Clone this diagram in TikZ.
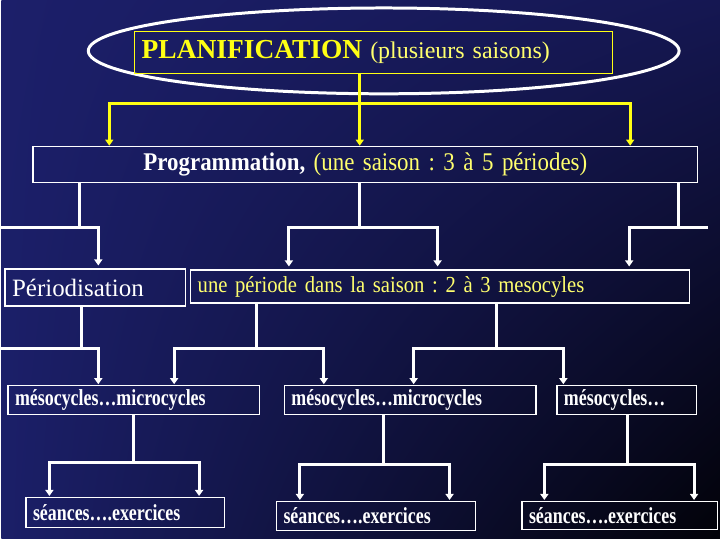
\documentclass[tikz,border=0pt]{standalone}
\usepackage{fontspec}
\setmainfont{Liberation Serif}
\newfontfamily\condserif[FakeStretch=0.78]{Liberation Serif}
\newfontfamily\narrowserif[FakeStretch=0.9]{Liberation Serif}
\usepackage{tikz}
\usetikzlibrary{arrows.meta, positioning, shadings}
\usepackage{xcolor}
\definecolor{bgTop}{RGB}{28, 31, 106}
\definecolor{bgSide}{RGB}{21, 23, 82}
\definecolor{bgLow}{RGB}{27, 31, 104}
\definecolor{bgDark}{RGB}{2, 2, 8}
\definecolor{lineY}{RGB}{255, 255, 20}
\definecolor{textY}{RGB}{255, 255, 110}
\frenchspacing

\begin{document}
\begin{tikzpicture}[x=1pt, y=-1pt,
  wbox/.style={draw=white, line width=1.2pt, anchor=north west, inner xsep=7pt, inner ysep=0pt, align=left, text=white},
  ybox/.style={wbox, draw=lineY, line width=1pt, text=lineY},
  lvl/.style={font=\fontsize{23}{26}\selectfont\condserif\bfseries},
  wline/.style={white, line width=3pt},
  warrow/.style={wline, -{Triangle[width=8pt, length=6pt]}, shorten >=1pt},
  yline/.style={lineY, line width=3pt},
  yarrow/.style={yline, -{Triangle[width=8pt, length=6pt]}}]

  % Background
  \shade[upper left=bgTop, upper right=bgSide, lower left=bgLow, lower right=bgDark] (0,0) rectangle (720,540);

  % Title oval and box
  \draw[white, line width=3pt] (383,51) ellipse [x radius=296pt, y radius=43pt];
  \node[ybox, minimum height=42pt, text width=465pt, font=\fontsize{24}{28}\selectfont] (plan) at (133,31)
    {{\fontsize{27.5}{30}\selectfont\bfseries PLANIFICATION} {\color{textY}(plusieurs saisons)}};

  % Boxes
  \node[wbox, minimum height=36pt, text width=652pt, align=center, font=\fontsize{25.5}{28}\selectfont\narrowserif] (prog) at (31,146)
    {{\bfseries Programmation,} {\color{textY}(une saison : 3 à 5 périodes)}};
  \node[wbox, minimum height=37pt, text width=167pt, font=\fontsize{25}{28}\selectfont] (peri) at (3,269) {Périodisation};
  \node[wbox, minimum height=33pt, text width=486pt, text=textY, font=\fontsize{23}{26}\selectfont\narrowserif] (period) at (189,270)
    {une période dans la saison : 2 à 3 mesocyles};

  \node[wbox, lvl, minimum height=29pt, text width=238pt] (meso1) at (6,386) {mésocycles…microcycles};
  \node[wbox, lvl, minimum height=29pt, text width=238pt] (meso2) at (283,386) {mésocycles…microcycles};
  \node[wbox, lvl, minimum height=29pt, text width=126pt] (meso3) at (556,386) {mésocycles…};

  \node[wbox, lvl, minimum height=30pt, text width=185pt] (sea1) at (24,498) {séances….exercices};
  \node[wbox, lvl, minimum height=29pt, text width=185pt] (sea2) at (275,502) {séances….exercices};
  \node[wbox, lvl, minimum height=28pt, text width=182pt] (sea3) at (521,502) {séances….exercices};

  % Yellow links
  \coordinate (yj) at (359,104);
  \draw[yarrow] (plan.south -| yj) -- (prog.north -| yj);
  \draw[yarrow] (yj) -| (prog.north -| 108,0);
  \draw[yarrow] (yj) -| (prog.north -| 630,0);

  % Programmation -> second row
  \coordinate (j1) at (78,228);
  \coordinate (e1) at (0,228);
  \draw[wline] (prog.south -| j1) -- (j1);
  \draw[warrow, shorten >=3pt] (e1) -| (peri.north -| 97,0);
  \coordinate (j2) at (359,228);
  \draw[wline] (prog.south -| j2) -- (j2);
  \foreach \ax in {288,437}
    \draw[warrow, shorten >=3pt] (j2) -| (period.north -| \ax,0);
  \coordinate (j3) at (678,228);
  \coordinate (e3) at (708,228);
  \draw[wline] (prog.south -| j3) -- (j3);
  \draw[warrow, shorten >=3pt] (e3) -| (period.north -| 629,0);

  % second row -> mesocycles
  \coordinate (j4) at (80,349);
  \coordinate (e4) at (0,349);
  \draw[wline] (peri.south -| j4) -- (j4);
  \draw[warrow] (e4) -| (meso1.north -| 97,0);
  \coordinate (j5) at (256,349);
  \draw[wline] (period.south -| j5) -- (j5);
  \draw[warrow] (j5) -| (meso1.north -| 173,0);
  \draw[warrow] (j5) -| (meso2.north -| 323,0);
  \coordinate (j6) at (496,349);
  \draw[wline] (period.south -| j6) -- (j6);
  \draw[warrow] (j6) -| (meso2.north -| 413,0);
  \draw[warrow] (j6) -| (meso3.north -| 563,0);

  % mesocycles -> seances
  \coordinate (j7) at (132,463);
  \draw[wline] (meso1.south -| j7) -- (j7);
  \foreach \ax in {48,198}
    \draw[warrow] (j7) -| (sea1.north -| \ax,0);
  \coordinate (j8) at (383,465);
  \draw[wline] (meso2.south -| j8) -- (j8);
  \foreach \ax in {299,449}
    \draw[warrow] (j8) -| (sea2.north -| \ax,0);
  \coordinate (j9) at (627,465);
  \draw[wline] (meso3.south -| j9) -- (j9);
  \foreach \ax in {544,694}
    \draw[warrow] (j9) -| (sea3.north -| \ax,0);
\end{tikzpicture}
\end{document}
